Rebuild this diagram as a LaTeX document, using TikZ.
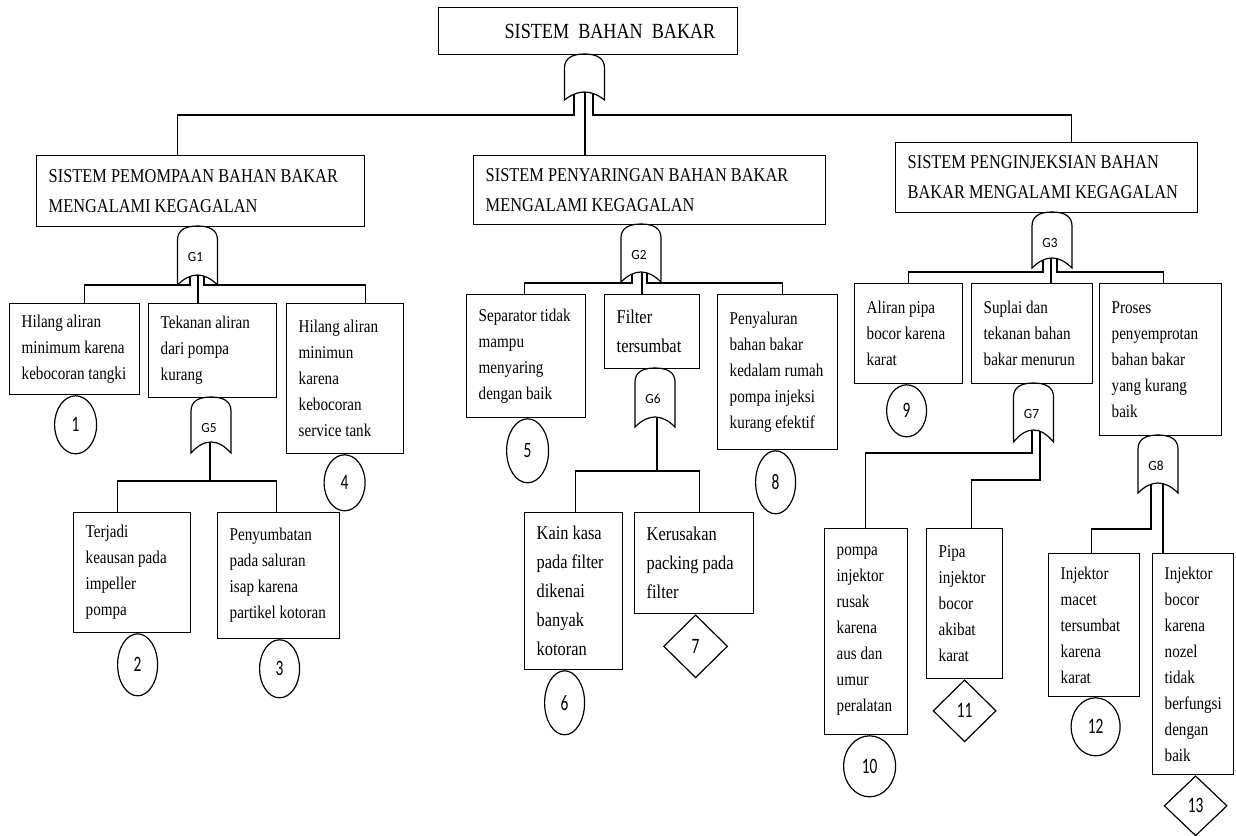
\documentclass[tikz,border=0pt]{standalone}
\usepackage{fontspec}
\setmainfont[FakeStretch=0.84]{Liberation Serif}
\newfontfamily\numfont[FakeStretch=0.7]{Carlito}
\newfontfamily\gatefont[FakeStretch=0.95]{Carlito}
\usetikzlibrary{shapes.geometric,calc}

\tikzset{
 boxst/.style={draw, line width=1.2pt, inner sep=0, rectangle},
 txtbody/.style={inner sep=0, align=left, font=\fontsize{18}{26}\selectfont},
 txthead/.style={inner sep=0, align=left, font=\fontsize{19.5}{30}\selectfont},
 txtbig/.style={inner sep=0, align=left, font=\fontsize{19.5}{29}\selectfont},
 gatest/.style={draw, line width=1.2pt},
 gatelab/.style={inner sep=0, font=\gatefont\fontsize{14}{14}\selectfont},
 evcirc/.style={ellipse, draw, line width=1.2pt, inner sep=0, anchor=north, font=\numfont\fontsize{22}{22}\selectfont},
 evdiam/.style={diamond, draw, line width=1.2pt, inner sep=0, anchor=north, font=\numfont\fontsize{22}{22}\selectfont},
 conn/.style={draw, line width=1.2pt},
}

\newcommand\evbox[7]{%
 \node[boxst, minimum width=#4, minimum height=#5, anchor=north west] (#1) at (#2,#3) {};
 \node[#6, anchor=west] (#1t) at ([xshift=12.5]#1.west) {#7};
}
\newcommand\ftgate[6]{%
 \draw[gatest] ({#2-20},#4) -- ({#2-20},{#3+14}) .. controls ({#2-20},{#3+4}) and ({#2-12},#3) .. (#2,#3) .. controls ({#2+12},#3) and ({#2+20},{#3+4}) .. ({#2+20},{#3+14}) -- ({#2+20},#4) .. controls ({#2+20/3},{#4-(#4-#5)*4/3}) and ({#2-20/3},{#4-(#4-#5)*4/3}) .. ({#2-20},#4) -- cycle;
 \node[gatelab] (#1) at ({#2-2},{#3+31}) {#6};
}
\newcommand\gout[5]{\coordinate (#1) at ({#2+#5},{#4+(#3-#4)*((#5)/20)^2});}

\begin{document}
\begin{tikzpicture}[x=1pt,y=-1pt]
\fill[white] (0,0) rectangle (1236,835);
\useasboundingbox (0,0) rectangle (1236,835);

% top event
\node[boxst, minimum width=299, minimum height=47, anchor=north west] (top) at (438,7) {};
\node[inner sep=0, font=\fontsize{21.6}{26}\selectfont] (topt) at (610,31) {SISTEM\ \ BAHAN\ \ BAKAR};

% headers
\evbox{hA}{36}{155}{328}{71}{txthead}{SISTEM PEMOMPAAN BAHAN BAKAR\\MENGALAMI KEGAGALAN}
\evbox{hB}{473}{155}{352}{69}{txthead}{SISTEM PENYARINGAN BAHAN BAKAR\\MENGALAMI KEGAGALAN}
\evbox{hC}{895}{142}{302}{70}{txthead}{SISTEM PENGINJEKSIAN BAHAN\\BAKAR MENGALAMI KEGAGALAN}

% pumping branch
\evbox{b1}{9}{303}{130}{91}{txtbody}{Hilang aliran\\minimum karena\\kebocoran tangki}
\evbox{b2}{148}{303}{128}{94}{txtbody}{Tekanan aliran\\dari pompa\\kurang}
\evbox{b3}{286}{303}{117}{150}{txtbody}{Hilang aliran\\minimun\\karena\\kebocoran\\service tank}
\evbox{b4}{73}{512}{117}{120}{txtbody}{Terjadi\\keausan pada\\impeller\\pompa}
\evbox{b5}{217}{512}{122}{126}{txtbody}{Penyumbatan\\pada saluran\\isap karena\\partikel kotoran}

% filter branch
\evbox{s1}{466}{294}{119}{123}{txtbody}{Separator tidak\\mampu\\menyaring\\dengan baik}
\evbox{s2}{604}{294}{95}{74}{txtbig}{Filter\\tersumbat}
\evbox{s3}{717}{294}{120}{155}{txtbody}{Penyaluran\\bahan bakar\\kedalam rumah\\pompa injeksi\\kurang efektif}
\evbox{s4}{524}{512}{98}{157}{txtbig}{Kain kasa\\pada filter\\dikenai\\banyak\\kotoran}
\evbox{s5}{634}{512}{119}{101}{txtbig}{Kerusakan\\packing pada\\filter}

% injection branch
\evbox{i1}{854}{283}{108}{100}{txtbody}{Aliran pipa\\bocor karena\\karat}
\evbox{i2}{971}{283}{121}{100}{txtbody}{Suplai dan\\tekanan bahan\\bakar menurun}
\evbox{i3}{1099}{283}{122}{152}{txtbody}{Proses\\penyemprotan\\bahan bakar\\yang kurang\\baik}
\evbox{i4}{824}{528}{83}{206}{txtbody}{pompa\\injektor\\rusak\\karena\\aus dan\\umur\\peralatan}
\evbox{i5}{926}{528}{76}{150}{txtbody}{Pipa\\injektor\\bocor\\akibat\\karat}
\evbox{i6}{1048}{553}{91}{143}{txtbody}{Injektor\\macet\\tersumbat\\karena\\karat}
\evbox{i7}{1152}{553}{81}{221}{txtbody}{Injektor\\bocor\\karena\\nozel\\tidak\\berfungsi\\dengan\\baik}

% basic / undeveloped events
\node[evcirc, minimum width=42, minimum height=58] (c1) at ([xshift=1]b1.south) {1};
\node[evcirc, minimum width=40, minimum height=62] (c2) at ([xshift=5.5]b4.south) {2};
\node[evcirc, minimum width=40, minimum height=58] (c3) at ([xshift=1]b5.south) {3};
\node[evcirc, minimum width=41, minimum height=56] (c4) at ([xshift=-0.5]b3.south) {4};
\node[evcirc, minimum width=42, minimum height=64] (c5) at ([xshift=1.5]s1.south) {5};
\node[evcirc, minimum width=40, minimum height=64] (c6) at ([xshift=-9]s4.south) {6};
\node[evdiam, minimum width=64, minimum height=63] (d7) at ([xshift=1.5]s5.south) {7};
\node[evcirc, minimum width=40, minimum height=63] (c8) at ([xshift=-2]s3.south) {8};
\node[evcirc, minimum width=40, minimum height=52] (c9) at ([xshift=-2]i1.south) {9};
\node[evcirc, minimum width=52, minimum height=61] (c10) at ([xshift=3.5]i4.south) {10};
\node[evdiam, minimum width=63, minimum height=62] (d11) at (i5.south) {11};
\node[evcirc, minimum width=49, minimum height=58] (c12) at ([xshift=1.5]i6.south) {12};
\node[evdiam, minimum width=63, minimum height=60] (d13) at ([xshift=2.5]i7.south) {13};

% gates
\ftgate{g0}{584.5}{54}{100}{92}{}
\ftgate{g1}{197.5}{226}{285}{275}{G1}
\ftgate{g5}{211}{397}{453}{442}{G5}
\ftgate{g2}{641}{224}{282}{272}{G2}
\ftgate{g6}{655}{368}{427}{417}{G6}
\ftgate{g3}{1052}{212}{268}{258}{G3}
\ftgate{g7}{1033.5}{383}{442}{430}{G7}
\ftgate{g8}{1158}{435}{493}{483}{G8}

% gate outputs
\gout{g0l}{584.5}{100}{92}{-10.5}
\gout{g0c}{584.5}{100}{92}{0.5}
\gout{g0r}{584.5}{100}{92}{8.5}
\gout{g1l}{197.5}{285}{275}{-7.5}
\gout{g1c}{197.5}{285}{275}{0.5}
\gout{g1r}{197.5}{285}{275}{6.5}
\gout{g5c}{211}{453}{442}{-1}
\gout{g2l}{641}{282}{272}{-9}
\gout{g2c}{641}{282}{272}{1}
\gout{g2r}{641}{282}{272}{6}
\gout{g6c}{655}{427}{417}{2}
\gout{g3l}{1052}{268}{258}{-9}
\gout{g3c}{1052}{268}{258}{-1}
\gout{g3r}{1052}{268}{258}{5}
\gout{g7l}{1033.5}{442}{430}{-1.5}
\gout{g7r}{1033.5}{442}{430}{6.5}
\gout{g8l}{1158}{493}{483}{-7}
\gout{g8r}{1158}{493}{483}{5}

% junction levels
\coordinate (j0) at (0,115);
\coordinate (j1) at (0,285);
\coordinate (j5) at (0,481);
\coordinate (j2) at (0,283);
\coordinate (j6) at (0,471);
\coordinate (j3) at (0,272);
\coordinate (j7a) at (0,453);
\coordinate (j7b) at (0,480);
\coordinate (j8) at (0,529);

% connectors
\draw[conn] (g0l) -- (g0l |- j0) -| ([xshift=-23]hA.north);
\draw[conn] (g0c) -- (g0c |- hB.north);
\draw[conn] (g0r) -- (g0r |- j0) -| ([xshift=25]hC.north);

\draw[conn] (g1l) -- (g1l |- j1) -| ([xshift=10]b1.north);
\draw[conn] (g1c) -- (g1c |- b2.north);
\draw[conn] (g1r) -- (g1r |- j1) -| ([xshift=20.5]b3.north);

\draw[conn] (g5c) -- (g5c |- j5) -| ([xshift=-14.5]b4.north);
\draw[conn] (g5c |- j5) -| ([xshift=-2]b5.north);

\draw[conn] (g2l) -- (g2l |- j2) -| ([xshift=-1.5]s1.north);
\draw[conn] (g2c) -- (g2c |- s2.north);
\draw[conn] (g2r) -- (g2r |- j2) -| ([xshift=5]s3.north);

\draw[conn] (g6c) -- (g6c |- j6) -| ([xshift=2]s4.north);
\draw[conn] (g6c |- j6) -| ([xshift=5.5]s5.north);

\draw[conn] (g3l) -- (g3l |- j3) -| (i1.north);
\draw[conn] (g3c) -- (g3c |- i2.north);
\draw[conn] (g3r) -- (g3r |- j3) -| ([xshift=3]i3.north);

\draw[conn] (g7l) -- (g7l |- j7a) -| ([xshift=-0.5]i4.north);
\draw[conn] (g7r) -- (g7r |- j7b) -| ([xshift=7]i5.north);

\draw[conn] (g8l) -- (g8l |- j8) -| ([xshift=-2.5]i6.north);
\draw[conn] (g8r) -- (g8r |- i7.north);
\end{tikzpicture}
\end{document}
